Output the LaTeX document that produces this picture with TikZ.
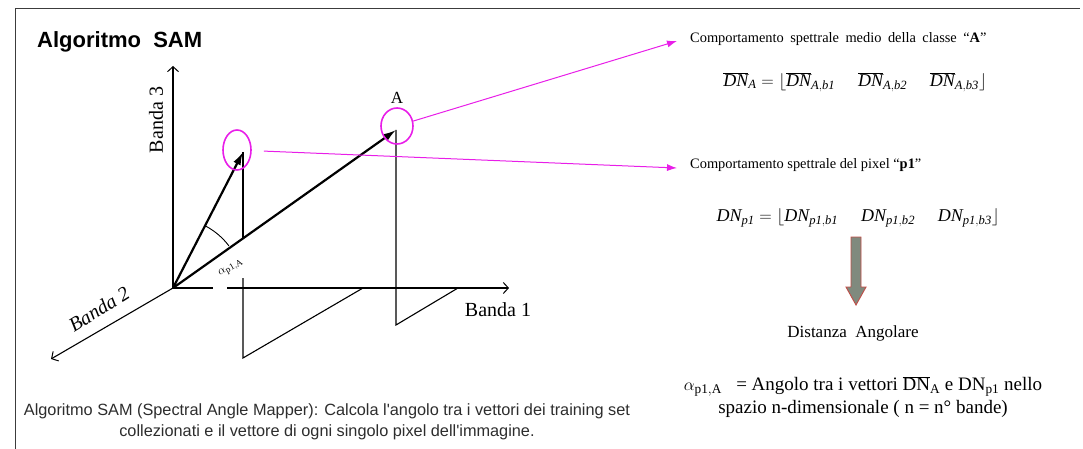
\documentclass[tikz,border=0pt]{standalone}
\usepackage{fontspec}
\setmainfont{Liberation Serif}
\newfontfamily\arialfont{Liberation Sans}
\usetikzlibrary{arrows.meta,calc,shapes.geometric}
\definecolor{mag}{RGB}{232,30,232}
\definecolor{arrfill}{RGB}{128,138,126}
\definecolor{arredge}{RGB}{192,78,72}
\definecolor{captext}{RGB}{45,45,45}
\definecolor{framec}{RGB}{60,60,60}
\newcommand{\wsp}{\hspace{0.2em}}
\begin{document}
\begin{tikzpicture}[x=1pt,y=-1pt,
  axisline/.style={line width=1.1pt},
  axisarrow/.style={line width=1.1pt,-{Straight Barb[length=5pt,width=11pt,line width=1pt]}},
  vec/.style={line width=2.2pt,-{Latex[length=13pt,width=8pt]}},
  proj/.style={line width=1.1pt},
  hl/.style={draw=mag,line width=1.6pt,ellipse,inner sep=0pt},
  link/.style={draw=mag,line width=1pt,-{Latex[length=10pt,width=7pt]}},
  axlabel/.style={inner sep=0pt,font=\fontsize{20}{24}\selectfont},
  hdr/.style={inner sep=0pt,anchor=base west},
  formula/.style={inner sep=0pt,font=\fontsize{18}{21}\selectfont}
]
\useasboundingbox (0,0) rectangle (1083,449);
% frame
\draw[framec,line width=1pt] (15,449) -- (15,9) -- (1080,9);

% title
\node[inner sep=0pt,anchor=base west,font=\arialfont\bfseries\fontsize{22}{26}\selectfont] (title) at (37,48) {Algoritmo\ \ SAM};

% geometry
\coordinate (O) at (173,288);
\coordinate (B3) at (173,66);
\coordinate (B1) at (509,288);
\coordinate (B2) at (51,359);
\coordinate (g1) at (213,288);
\coordinate (g2) at (227,288);
\coordinate (P) at (243,152);
\coordinate (A) at (396,130);
\coordinate (PonA) at (243,238);
\coordinate (Pb) at (243,278);
\coordinate (Pc) at (243,358);
\coordinate (Pd) at (363,288);
\coordinate (Ac) at (396,325);
\coordinate (Ad) at (458,288);

% axes
\draw[axisarrow] (O) -- (B3);
\draw[axisline] (O) -- (g1);
\draw[axisarrow] (g2) -- (B1);
\draw[axisarrow] (O) -- (B2);

% projections
\draw[proj] (P) -- (PonA);
\draw[proj] (Pb) -- (Pc) -- (Pd);
\draw[proj] (A) -- (Ac) -- (Ad);

% vectors
\draw[vec] (O) -- (P);
\draw[vec] (O) -- (A);

% angle arc
\draw[line width=0.9pt] ($(O)+(-37:70)$) arc[start angle=-37,end angle=-62,radius=70];

% axis labels
\node[axlabel,anchor=center] (lb1) at (498,310) {Banda 1};
\node[axlabel,anchor=center,rotate=90] (lb3) at (156,120) {Banda 3};
\node[axlabel,anchor=center,rotate=32,font=\itshape\fontsize{20}{24}\selectfont] (lb2) at (99,309) {Banda 2};
\node[inner sep=0pt,rotate=30,font=\fontsize{13}{15}\selectfont] (alab) at (231,268) {$\alpha_{\mathrm{p1,A}}$};
\node[inner sep=0pt,font=\fontsize{17}{20}\selectfont] (Alab) at (397,98) {A};

% highlight ellipses
\node[hl,minimum width=28pt,minimum height=40pt] (e1) at (237,150) {};
\node[hl,minimum width=32pt,minimum height=36pt] (e2) at (397,126) {};

% right column texts
\node[hdr,font=\fontsize{14.4}{17}\selectfont] (h1) at (690,43) {Comportamento\wsp{} spettrale\wsp{} medio\wsp{} della\wsp{} classe\wsp{} ``\textbf{A}''};
\node[formula] (f1) at (855,82) {$\overline{\mathit{DN}}_{\mathit{A}} = \Big\lfloor\overline{\mathit{DN}}_{\mathit{A,b1}}\quad\;\overline{\mathit{DN}}_{\mathit{A,b2}}\quad\;\overline{\mathit{DN}}_{\mathit{A,b3}}\Big\rfloor$};
\node[hdr,font=\fontsize{14.4}{17}\selectfont] (h2) at (690,168) {Comportamento spettrale del pixel ``\textbf{p1}''};
\node[formula] (f2) at (858,218) {$\mathit{DN}_{\mathit{p1}} = \Big\lfloor\mathit{DN}_{\mathit{p1,b1}}\quad\;\mathit{DN}_{\mathit{p1,b2}}\quad\;\mathit{DN}_{\mathit{p1,b3}}\Big\rfloor$};

% magenta links
\coordinate (t1) at (677,41);
\coordinate (t2) at (677,168);
\draw[link] (e2) -- (t1);
\draw[link,shorten <=12pt] (e1) -- (t2);

% big arrow
\draw[fill=arrfill,draw=arredge,line width=0.9pt] (851,237) -- (861,237) -- (861,287) -- (866,287) -- (856,305) -- (846,287) -- (851,287) -- cycle;

\node[inner sep=0pt,font=\fontsize{17}{20}\selectfont] (dist) at (853,333) {Distanza\ \ Angolare};
\node[inner sep=0pt,align=center,font=\fontsize{19}{23}\selectfont] (def) at (863,397) {$\alpha_{\mathrm{p1,A}}$\ \ \ = Angolo tra i vettori $\overline{\mathrm{DN}}_{\mathrm{A}}$ e DN$_{\mathrm{p1}}$ nello\\ spazio n-dimensionale ( n = n° bande)};

% caption
\node[inner sep=0pt,align=center,text=captext,font=\arialfont\fontsize{16.3}{21}\selectfont] (cap) at (327,422) {Algoritmo SAM (Spectral Angle Mapper): Calcola l'angolo tra i vettori dei training set\\ collezionati e il vettore di ogni singolo pixel dell'immagine.};
\end{tikzpicture}
\end{document}
